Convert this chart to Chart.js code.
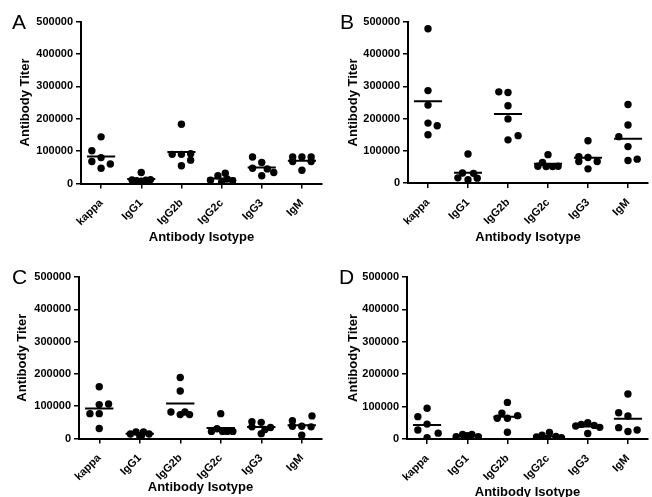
<!DOCTYPE html>
<html>
<head>
<meta charset="utf-8">
<script src="https://cdn.jsdelivr.net/npm/chart.js@4.4.1/dist/chart.umd.min.js"></script>
<style>
  html, body { margin: 0; padding: 0; background: #fff; overflow: hidden; }
  #wrap { position: relative; width: 652px; height: 497px; }
  canvas { position: absolute; }
  .letter { position: absolute; font: 21px 'Liberation Sans', Arial, sans-serif; line-height: 21px; color: #000; }
</style>
</head>
<body>
<div id="wrap">
  <canvas id="chartA" width="326" height="250" style="left:0;top:0"></canvas>
  <canvas id="chartB" width="326" height="250" style="left:326px;top:0"></canvas>
  <canvas id="chartC" width="326" height="250" style="left:0;top:250px"></canvas>
  <canvas id="chartD" width="326" height="250" style="left:326px;top:250px"></canvas>
  <div class="letter" style="left:12px;top:11px">A</div>
  <div class="letter" style="left:340px;top:11px">B</div>
  <div class="letter" style="left:12px;top:266px">C</div>
  <div class="letter" style="left:339px;top:266px">D</div>
</div>
<script>
const categories = ['kappa', 'IgG1', 'IgG2b', 'IgG2c', 'IgG3', 'IgM'];
const yTicks = [0, 100000, 200000, 300000, 400000, 500000];

// titers per isotype (one row per category)
const titersA = [
  [144000, 101000, 80000, 68000, 60000, 47000],
  [34000, 11000, 9000, 7000, 10000, 12000],
  [183000, 90000, 90000, 92000, 72000, 55000],
  [32000, 24000, 10000, 4000, 9000, 14000],
  [82000, 65000, 47000, 45000, 34000, 24000],
  [82000, 82000, 82000, 68000, 68000, 41000]
];
const titersB = [
  [479000, 287000, 242000, 186000, 178000, 150000],
  [90000, 31000, 30000, 16000, 15000, 10000],
  [283000, 281000, 240000, 199000, 147000, 134000],
  [88000, 64000, 52000, 51000, 51000, 52000],
  [131000, 82000, 79000, 67000, 67000, 44000],
  [244000, 180000, 144000, 113000, 70000, 74000]
];
const titersC = [
  [160000, 105000, 107000, 77000, 77000, 31000],
  [20000, 20000, 14000, 14000, 8000, 10000],
  [189000, 147000, 82000, 82000, 74000, 74000],
  [77000, 30000, 22000, 22000, 22000, 22000],
  [52000, 50000, 36000, 34000, 28000, 15000],
  [55000, 70000, 38000, 38000, 36000, 10000]
];
const titersD = [
  [95000, 69000, 46000, 28000, 18000, 4000],
  [14000, 14000, 10000, 7000, 7000, 3000],
  [113000, 80000, 64000, 64000, 72000, 21000],
  [20000, 12000, 8000, 6000, 4000, 2000],
  [50000, 45000, 42000, 40000, 36000, 17000],
  [139000, 81000, 71000, 35000, 23000, 28000]
];

// scatter column (left/right slot) of each dot, as seen in the picture
const slotsA = [
  [0, -1, 0, -1, 1, 0],
  [0, -1, -0.5, 0, 0.5, 1],
  [0, -1, 0, 1, 1, 0],
  [0.4, -0.4, -1.2, 0, 1.2, 0.6],
  [-1, 0, -1, 0.6, 1.3, 0],
  [-1, 0, 1, -1, 1, 0]
];
const slotsB = [
  [0, 0, 0, 0, 1, 0],
  [0, -0.6, 0.6, -1.1, 1, 0],
  [-1, 0, 0, 0, 1.1, 0],
  [0, -0.6, -1.1, -0.2, 0.5, 1.1],
  [0, -1, 0, -1, 1, 0],
  [0, 0, -1, 0, 0, 1]
];
const slotsC = [
  [0, 0, 1, -1, 0, 0],
  [-0.4, 0.4, -1, 1, 0, 0.2],
  [0, 0, -1, 0.5, 0, 1],
  [0, -0.4, -1, 0.2, 0.7, 1.3],
  [-1, 0, -1, 1, 0.4, 0],
  [-1, 1.1, -1, 0, 1, 0]
];
const slotsD = [
  [0, -1, 0, -1, 1.2, 0],
  [-0.5, 0.5, 0, -1.2, 1.2, 0],
  [0, -0.6, -1.1, 0, 1.1, 0],
  [0.2, -0.6, 0.9, -1.2, 1.5, 0],
  [0, -0.7, 0.7, -1.3, 1.3, 0],
  [0, -1, 0, -1, 0, 1]
];

const SLOT = 0.23;      // category units per dot column
const HALF_BAR = 0.35;  // half width of the mean line
const FONT = "'Liberation Sans', Arial, Helvetica, sans-serif";

function mean(arr) {
  return arr.reduce((a, b) => a + b, 0) / arr.length;
}

function makePanel(id, titers, slots, box) {
  const dots = [];
  titers.forEach((vals, i) => {
    vals.forEach((v, k) => dots.push({ x: i + slots[i][k] * SLOT, y: v }));
  });
  const means = [];
  titers.forEach((vals, i) => {
    const m = mean(vals);
    means.push({ x: i - HALF_BAR, y: m }, { x: i + HALF_BAR, y: m }, { x: i, y: null });
  });

  const titleLH = 13 * 1.2;
  const padLeft = box.yTitleX - titleLH / 2;
  const xHeight = box.titleY + titleLH / 2 - box.bottom;

  new Chart(document.getElementById(id), {
    type: 'scatter',
    data: {
      datasets: [
        {
          data: dots,
          backgroundColor: '#000',
          borderWidth: 0,
          pointRadius: 3.7
        },
        {
          data: means,
          showLine: true,
          spanGaps: false,
          borderColor: '#000',
          borderWidth: 2,
          pointRadius: 0
        }
      ]
    },
    options: {
      responsive: false,
      animation: false,
      events: [],
      layout: {
        padding: {
          left: padLeft,
          top: box.top,
          right: 326 - box.right,
          bottom: 250 - box.titleY - titleLH / 2
        }
      },
      plugins: { legend: { display: false }, tooltip: { enabled: false } },
      scales: {
        x: {
          type: 'linear',
          min: -0.5,
          max: 5.5,
          afterBuildTicks: (axis) => { axis.ticks = categories.map((c, i) => ({ value: i })); },
          afterFit: (scale) => { scale.height = xHeight; },
          ticks: {
            callback: (v) => categories[v],
            minRotation: 45,
            maxRotation: 45,
            autoSkip: false,
            color: '#000',
            padding: 8,
            font: { family: FONT, size: 11, weight: 'bold' }
          },
          grid: { drawOnChartArea: false, color: '#000', lineWidth: 1.5, tickLength: 5 },
          border: { color: '#000', width: 2 },
          title: {
            display: true,
            text: 'Antibody Isotype',
            color: '#000',
            padding: 0,
            font: { family: FONT, size: 13, weight: 'bold' }
          }
        },
        y: {
          min: 0,
          max: 500000,
          afterBuildTicks: (axis) => { axis.ticks = yTicks.map((v) => ({ value: v })); },
          afterFit: (scale) => { scale.width = box.left - padLeft; },
          ticks: {
            callback: (v) => String(v),
            color: '#000',
            padding: 3,
            font: { family: FONT, size: 11, weight: 'bold' }
          },
          grid: { drawOnChartArea: false, color: '#000', lineWidth: 1.5, tickLength: 5 },
          border: { color: '#000', width: 2 },
          title: {
            display: true,
            text: 'Antibody Titer',
            color: '#000',
            padding: 0,
            font: { family: FONT, size: 13, weight: 'bold' }
          }
        }
      }
    }
  });
}

makePanel('chartA', titersA, slotsA, { left: 81, right: 325, top: 21.5, bottom: 183.5, titleY: 237, yTitleX: 25.5 });
makePanel('chartB', titersB, slotsB, { left: 82, right: 325, top: 22, bottom: 183, titleY: 237, yTitleX: 27 });
makePanel('chartC', titersC, slotsC, { left: 79, right: 325, top: 27, bottom: 188.5, titleY: 237, yTitleX: 22 });
makePanel('chartD', titersD, slotsD, { left: 81, right: 325, top: 27, bottom: 189, titleY: 242, yTitleX: 27.5 });
</script>
</body>
</html>
